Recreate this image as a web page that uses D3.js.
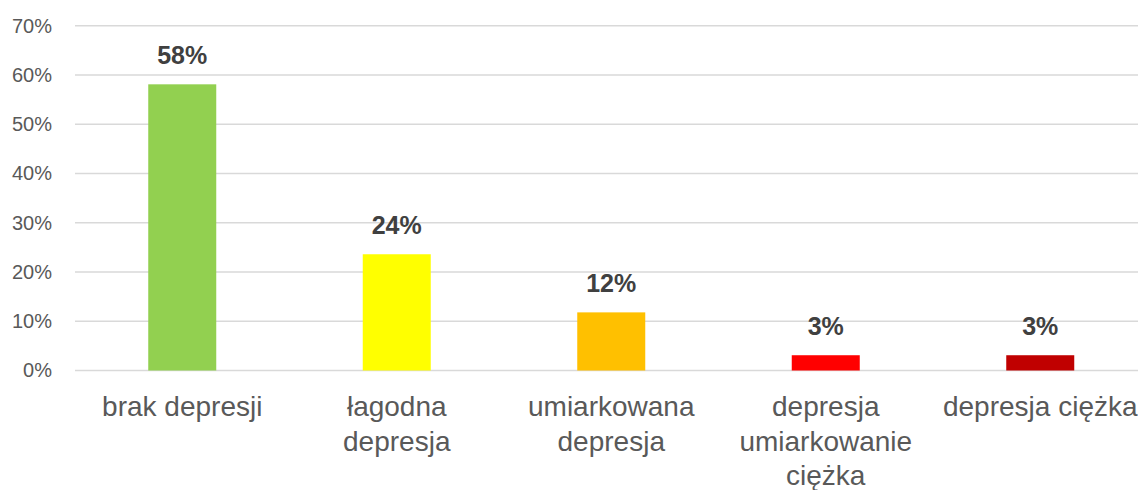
<!DOCTYPE html>
<html>
<head>
<meta charset="utf-8">
<script src="https://cdn.jsdelivr.net/npm/d3@7"></script>
<style>
  html, body { margin: 0; padding: 0; background: #fff; }
  svg { display: block; }
</style>
</head>
<body>
<svg id="chart" width="1138" height="490"></svg>
<script>
const categories = ["brak depresji", "łagodna depresja", "umiarkowana depresja", "depresja umiarkowanie ciężka", "depresja ciężka"];
const categoryLines = [["brak depresji"], ["łagodna", "depresja"], ["umiarkowana", "depresja"], ["depresja", "umiarkowanie", "ciężka"], ["depresja ciężka"]];
const values = [0.581, 0.236, 0.118, 0.031, 0.031];
const colors = ["#92d050", "#ffff00", "#ffc000", "#ff0000", "#c00000"];
const yTicks = [0, 0.1, 0.2, 0.3, 0.4, 0.5, 0.6, 0.7];

const svg = d3.select("#chart");
const font = "'Liberation Sans', Arial, sans-serif";

const x = d3.scaleBand()
  .domain(categories)
  .range([75, 1147.5])
  .paddingInner(0.683)
  .paddingOuter(0.3415);

const y = d3.scaleLinear().domain([0, 0.7]).range([370.5, 25.7]);

// gridlines
const yAxis = d3.axisLeft(y).tickValues(yTicks).tickFormat(d3.format(".0%")).tickSize(0).tickPadding(23);
const gAxis = svg.append("g").attr("transform", "translate(75,0)").call(yAxis);
gAxis.select(".domain").remove();
gAxis.selectAll("text")
  .attr("fill", "#595959")
  .style("font-family", font)
  .style("font-size", "20px");

svg.append("g").selectAll("line")
  .data(yTicks)
  .join("line")
  .attr("x1", 75)
  .attr("x2", 1147.5)
  .attr("y1", d => y(d))
  .attr("y2", d => y(d))
  .attr("stroke", "#d9d9d9")
  .attr("stroke-width", 1.4);

// bars
svg.append("g").selectAll("rect")
  .data(values)
  .join("rect")
  .attr("x", (d, i) => x(categories[i]))
  .attr("width", x.bandwidth())
  .attr("y", d => y(d))
  .attr("height", d => y(0) - y(d))
  .attr("fill", (d, i) => colors[i]);

// data labels
svg.append("g").selectAll("text")
  .data(values)
  .join("text")
  .attr("x", (d, i) => x(categories[i]) + x.bandwidth() / 2)
  .attr("y", d => y(d) - 20)
  .attr("text-anchor", "middle")
  .attr("fill", "#404040")
  .style("font-family", font)
  .style("font-size", "25px")
  .style("font-weight", "bold")
  .text(d => d3.format(".0%")(d));

// category labels
const cat = svg.append("g").selectAll("text")
  .data(categories)
  .join("text")
  .attr("x", d => x(d) + x.bandwidth() / 2)
  .attr("y", 416)
  .attr("text-anchor", "middle")
  .attr("fill", "#595959")
  .style("font-family", font)
  .style("font-size", "28px");
cat.each(function(d, i) {
  d3.select(this).selectAll("tspan")
    .data(categoryLines[i])
    .join("tspan")
    .attr("x", x(d) + x.bandwidth() / 2)
    .attr("dy", (t, j) => j === 0 ? 0 : 34.5)
    .text(t => t);
});
</script>
</body>
</html>
